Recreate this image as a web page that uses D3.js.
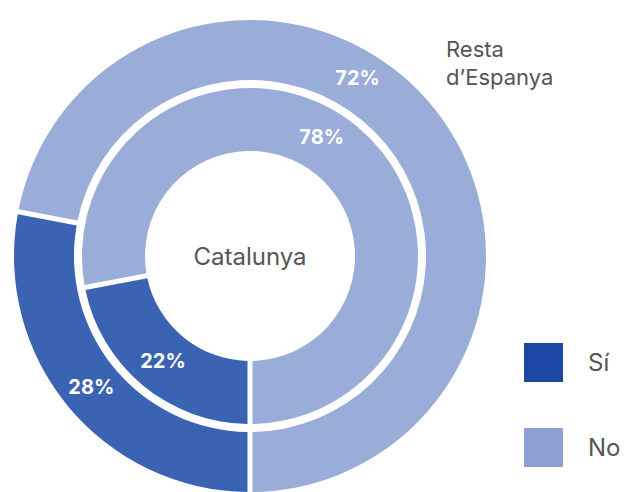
<!DOCTYPE html>
<html>
<head>
<meta charset="utf-8">
<script src="https://cdn.jsdelivr.net/npm/d3@7"></script>
<style>
  body { margin: 0; background: #fff; }
  text { font-family: Inter, "Noto Sans", sans-serif; }
</style>
</head>
<body>
<div id="chart"></div>
<script>
// Dades
const answers = ["Sí", "No"];
const rings = ["Catalunya", "Resta d'Espanya"];
const catalunyaValues = [22, 78];
const restaValues = [28, 72];
const outerTitleLines = ["Resta", "d’Espanya"];

const width = 624, height = 492;
const cx = 250, cy = 256;

const svg = d3.select("#chart")
    .append("svg")
    .attr("width", width)
    .attr("height", height);

const color = d3.scaleOrdinal()
    .domain(answers)
    .range(["#3b63b3", "#9aadd8"]);

const legendColor = d3.scaleOrdinal()
    .domain(answers)
    .range(["#1c47a4", "#8ca1d2"]);

// comença a baix i gira en sentit horari
const pie = d3.pie()
    .sort(null)
    .value(d => d)
    .startAngle(Math.PI)
    .endAngle(3 * Math.PI);

const ringDefs = [
    { name: rings[0], values: catalunyaValues, inner: 105, outer: 168 },
    { name: rings[1], values: restaValues, inner: 176, outer: 236 }
];

const g = svg.append("g").attr("transform", `translate(${cx},${cy})`);

ringDefs.forEach(ring => {
    const arc = d3.arc()
        .innerRadius(ring.inner)
        .outerRadius(ring.outer)
        .padAngle(0.05)
        .padRadius(100);

    const arcs = pie(ring.values);

    g.append("g")
        .selectAll("path")
        .data(arcs)
        .enter()
        .append("path")
        .attr("d", arc)
        .attr("fill", (d, i) => color(answers[i]));

    // etiquetes de percentatge
    g.append("g")
        .selectAll("text")
        .data(arcs)
        .enter()
        .append("text")
        .attr("transform", (d, i) => {
            const r = (ring.inner + ring.outer) / 2 + (i === 0 ? 0 : 2);
            // el "No" va a la part de dalt, una mica a la dreta de les 12
            const a = i === 0 ? (d.startAngle + d.endAngle) / 2 : Math.PI / 6 + 0.02;
            return `translate(${r * Math.sin(a)},${-r * Math.cos(a)})`;
        })
        .attr("text-anchor", "middle")
        .attr("dy", "0.35em")
        .attr("fill", "#fff")
        .attr("font-size", 20)
        .attr("font-weight", 700)
        .text(d => d.data + "%");
});

// títol central
g.append("text")
    .attr("text-anchor", "middle")
    .attr("dy", "0.35em")
    .attr("y", 1)
    .attr("fill", "#555")
    .attr("font-size", 24)
    .text(rings[0]);

// títol exterior (dues línies)
svg.append("g")
    .selectAll("text")
    .data(outerTitleLines)
    .enter()
    .append("text")
    .attr("x", 446)
    .attr("y", (d, i) => 57 + i * 28)
    .attr("fill", "#555")
    .attr("font-size", 22)
    .text(d => d);

// llegenda
const legend = svg.append("g")
    .selectAll("g")
    .data(answers)
    .enter()
    .append("g")
    .attr("transform", (d, i) => `translate(524,${343 + i * 85})`);

legend.append("rect")
    .attr("width", 39)
    .attr("height", 39)
    .attr("fill", d => legendColor(d));

legend.append("text")
    .attr("x", 64)
    .attr("y", 20)
    .attr("dy", "0.35em")
    .attr("fill", "#555")
    .attr("font-size", 24)
    .text(d => d);
</script>
</body>
</html>
